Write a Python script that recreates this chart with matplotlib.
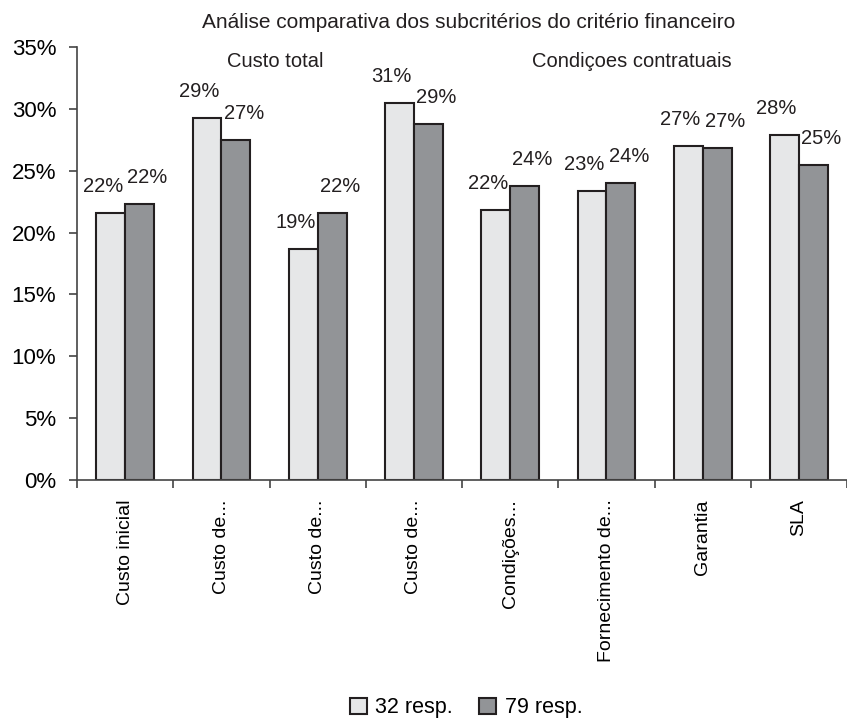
import numpy as np
import matplotlib
matplotlib.use("Agg")
import matplotlib.pyplot as plt

plt.rcParams['font.family'] = ['Liberation Sans', 'DejaVu Sans']

# dados
categorias = ['Custo inicial', 'Custo de...', 'Custo de...', 'Custo de...',
              'Condições...', 'Fornecimento de...', 'Garantia', 'SLA']
resp32 = [21.6, 29.3, 18.7, 30.5, 21.8, 23.4, 27.0, 27.9]
resp79 = [22.3, 27.5, 21.6, 28.8, 23.8, 24.0, 26.8, 25.5]
rot32 = ['22%', '29%', '19%', '31%', '22%', '23%', '27%', '28%']
rot79 = ['22%', '27%', '22%', '29%', '24%', '24%', '27%', '25%']
grupos = ['Custo total', 'Condiçoes contratuais']

cor_clara = '#e6e7e8'
cor_escura = '#929497'
borda = '#231f20'

fig = plt.figure(figsize=(8.47, 7.19), dpi=100)
ax = fig.add_axes([77/847, 1 - 480/719, 770/847, 433/719])

x = np.arange(len(categorias))
w = 0.3
b1 = ax.bar(x - w/2, resp32, w, color=cor_clara, edgecolor=borda, linewidth=1.5, label='32 resp.')
b2 = ax.bar(x + w/2, resp79, w, color=cor_escura, edgecolor=borda, linewidth=1.5, label='79 resp.')

for xi, v, t in zip(x, resp32, rot32):
    ax.annotate(t, (xi - w/2, v), xytext=(-8, 17), textcoords='offset pixels',
                ha='center', va='bottom', fontsize=14.5, color='#231f20')
for xi, v, t in zip(x, resp79, rot79):
    ax.annotate(t, (xi + w/2, v), xytext=(8, 17), textcoords='offset pixels',
                ha='center', va='bottom', fontsize=14.5, color='#231f20')

ax.text(1.56, 33.8, grupos[0], ha='center', va='center', fontsize=14.5, color='#231f20')
ax.text(5.26, 33.8, grupos[1], ha='center', va='center', fontsize=14.5, color='#231f20')

ax.set_xlim(-0.5, -0.5 + 770/97)
ax.set_ylim(0, 35)
ax.set_yticks(np.arange(0, 36, 5))
ax.set_yticklabels([f'{v}%' for v in range(0, 36, 5)], fontsize=16)
ax.set_xticks(x)
ax.set_xticklabels(categorias, rotation=90, fontsize=14, va='top')
ax.set_xticks(np.arange(-0.5, len(categorias), 1), minor=True)
ax.tick_params(axis='x', which='major', length=0, pad=14)
ax.tick_params(axis='x', which='minor', length=6, width=1.2, direction='out', color='#444444')
ax.tick_params(axis='y', length=6, width=1.2, pad=9, color='#444444')

for s in ['top', 'right']:
    ax.spines[s].set_visible(False)
for s in ['left', 'bottom']:
    ax.spines[s].set_linewidth(1.2)
    ax.spines[s].set_color('#444444')

fig.text(469/847, 1 - 22/719, 'Análise comparativa dos subcritérios do critério financeiro',
         ha='center', va='center', fontsize=15, color='#231f20')

fig.legend(handles=[b1, b2], loc='center', bbox_to_anchor=(466/847, 1 - 708/719),
           ncol=2, frameon=False, fontsize=15.5, handlelength=0.8, handleheight=0.8,
           handletextpad=0.4, columnspacing=1.2)

fig.savefig('out.png', dpi=100)
